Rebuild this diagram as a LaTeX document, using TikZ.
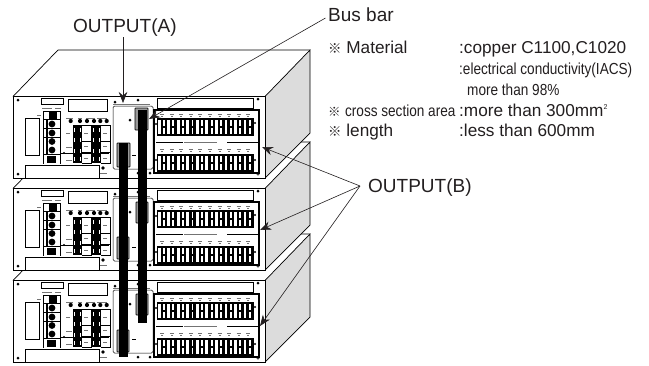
\documentclass[tikz,border=0pt]{standalone}
\usepackage{fontspec}
\usepackage{graphicx}
\setmainfont{Liberation Sans}
\newfontfamily\cjkf{Noto Sans CJK SC}
\usetikzlibrary{arrows.meta}
\definecolor{ink}{HTML}{231F20}
\definecolor{sideg}{HTML}{DCDCDC}
\tikzset{
  x=1pt,y=-1pt,
  lbl/.style={anchor=base west,inner sep=0pt,text=ink},
  big/.style={lbl,font=\fontsize{19}{19}\selectfont},
  mid/.style={lbl,font=\fontsize{17.2}{17}\selectfont},
  sml/.style={lbl,font=\fontsize{16}{16}\selectfont},
  callout/.style={draw=ink,line width=.6pt,-{Stealth[length=11pt,width=8.5pt]}},
  edge/.style={draw=black,line width=.7pt},
  panelbox/.style={draw=black,line width=.5pt,fill=white},
  clamp/.style={draw=black,line width=.7pt,fill=black!40,rounded corners=.6pt},
  tiny/.style={draw=black!55,line width=.5pt},
  screw/.style={fill=black}
}
\newcommand{\rc}{{\cjkf\scalebox{.78}{※}}}
\newcommand{\nar}[1]{\scalebox{.85}[1]{#1}}
\newcommand{\oneterm}[2]{%
  \fill[white] (#1,#2) rectangle ++(2.8,14.6);
  \fill[white] (#1+5.2,#2) rectangle ++(1.9,6.4);
  \fill[white] (#1+5.2,#2+8.2) rectangle ++(1.9,6.4);
}
\newcommand{\unitdraw}{%
  % top and side faces
  \fill[white] (13,96.5) -- (58,50) -- (310,50) -- (265,96.5) -- cycle;
  \draw[edge] (13,96.5) -- (58,50) -- (310,50);
  \fill[sideg] (265,96.5) -- (310,50) -- (310,133) -- (265,178) -- cycle;
  \draw[edge] (265,96.5) -- (310,50) -- (310,133) -- (265,178);
  % front panel
  \draw[line width=.9pt,fill=white] (13,96.5) rectangle (265,178);
  % screws
  \foreach \sx/\sy in {18/100,18/174,138/100,258/99,138/173,150/173,115/102}
    \fill[screw] (\sx,\sy) circle (1.5);
  \draw[line width=.6pt] (258,174) circle (1.3);
  % outlined panels
  \draw[panelbox] (41,98) rectangle (63,104);
  \draw[panelbox] (68,99) rectangle (107,111);
  \draw[panelbox] (25,118) rectangle (39,155);
  \draw[panelbox] (25,165) rectangle (99,178);
  \draw[panelbox] (157,98) rectangle (253,108);
  % left terminal block
  \fill[black] (43,111) rectangle (61,164);
  \foreach \ty in {120,129,137.5,146}{
    \fill[white] (44,\ty) rectangle (60,\ty+8);
    \fill[black] (46,\ty) rectangle (47.5,\ty+8);
    \fill[black] (52,\ty+4) circle (3.4);
  }
  \fill[white] (44,111.5) rectangle (60,119);
  \fill[black] (49,112) rectangle (57,118.5);
  \fill[white] (44,155) rectangle (60,163.5);
  \fill[black] (47,156) rectangle (56,162.5);
  % small marks
  \draw[tiny] (42,108) -- (52,108) (55,108) -- (61,108);
  \draw[tiny] (37,115.5) -- (41,115.5);
  \draw[tiny] (66,118) -- (73,118) (78,118) -- (82,118) (86,118) -- (95,118) (97,118) -- (107,118);
  % switch row
  \foreach \cx in {70.7,80,87,94,100.3,106.7}{
    \fill[black] (\cx,121) circle (2.1);
  }
  % switch strips
  \foreach \bx in {73,92}{
    \fill[black] (\bx,125) rectangle (\bx+9,163);
    \foreach \wy in {128,138,149,157}{
      \fill[white] (\bx+.5,\wy) rectangle (\bx+2,\wy+4);
      \fill[white] (\bx+6.5,\wy) rectangle (\bx+8,\wy+4);
    }
    \draw[line width=.5pt] (\bx+9,125) -- (\bx+18,125) -- (\bx+18,163) -- (\bx+9,163)
      (\bx+9,141) -- (\bx+18,141) (\bx+9,152) -- (\bx+18,152);
    \draw[tiny] (\bx+11,133) -- (\bx+15,133) (\bx+11,146) -- (\bx+15,146) (\bx+11,158) -- (\bx+15,158);
  }
  \draw[tiny] (66,133) -- (70,133) (66,147) -- (72,147) (66,160) -- (72,160);
  \draw[line width=.6pt] (60,153) -- (66,153);
  \fill[black] (64,153) circle (1.2);
  \draw[line width=.6pt] (66,153) -- (109,153);
  \fill[black] (103,168) circle (1.8);
  \draw[tiny] (100,173) -- (107,173);
  % output A panel
  \draw[panelbox,rounded corners=1.5pt] (113,106) rectangle (153,169);
  \draw[tiny] (113,104) -- (150,104);
  \fill[black] (130,120) circle (1.5);
  \fill[black] (132,154.5) rectangle (136,155.8);
  % output B block
  \draw[line width=1.6pt,fill=white] (154,110) rectangle (259,173);
  \fill[black] (157,118) rectangle (254,136);
  \fill[black] (157,153.5) rectangle (254,172);
  \foreach \i in {0,...,9}{
    \pgfmathsetmacro{\tx}{157.7+9.55*\i}
    \oneterm{\tx}{119.8}
    \oneterm{\tx}{155.8}
    \draw[tiny] (\tx+2.5,114) -- (\tx+6.5,114) (\tx+2.5,149.5) -- (\tx+6.5,149.5);
    \draw[tiny] (\tx+3.5,116) -- (\tx+5.5,116) (\tx+3.5,151.5) -- (\tx+5.5,151.5);
  }
  \fill[black] (156,124) circle (1.1) (255,123) circle (1.1) (156,160) circle (1.1) (255,160) circle (1.1);
  \draw[line width=.5pt] (156,142) -- (183,142) (227,142) -- (258,142);
  \draw[tiny] (184,142) -- (217,142);
}
\begin{document}
\begin{tikzpicture}
  \useasboundingbox (0,0) rectangle (649,365);
  \fill[white] (0,0) rectangle (649,365);
  % three stacked units, lowest first
  \foreach \sh in {184,92,0}{
    \begin{scope}[shift={(0,\sh)}]
      \unitdraw
    \end{scope}
  }
  % clamps
  \foreach \cx/\cy/\cw/\ch in {135/108/13/22,117/143/13/24,136/202/12/21,117/237/12/22,136/294/12/21,117/330/12/22}{
    \draw[clamp] (\cx,\cy) rectangle ++(\cw,\ch);
  }
  % bus bars
  \fill[black] (138,110) rectangle (147,323);
  \fill[black] (119,143) rectangle (128,357);

  % labels
  \node[big] (outa) at (73,32) {OUTPUT(A)};
  \node[big] (busbar) at (328,21) {Bus bar};
  \node[big] (outb) at (368,192) {OUTPUT(B)};
  \node[mid] (m1) at (328,53) {\rc{} Material};
  \node[mid] (m2) at (459,53) {:copper C1100,C1020};
  \node[sml] (m3) at (459,74) {\nar{:electrical conductivity(IACS)}};
  \node[sml] (m4) at (467,95) {\nar{more than 98\%}};
  \node[sml] (m5) at (328,116) {\rc{} \nar{cross section area}};
  \node[mid] (m6) at (459,116) {:more than 300mm\raisebox{6.5pt}{\fontsize{7}{7}\selectfont 2}};
  \node[mid] (m7) at (328,136) {\rc{} length};
  \node[mid] (m8) at (459,136) {:less than 600mm};

  % connector ends
  \coordinate (aout) at (123,37);
  \coordinate (aend) at (123,103);
  \coordinate (bstart) at (325.5,18);
  \coordinate (bend) at (149,119);
  \coordinate (apex) at (360,186);
  \coordinate (b1) at (262,147);
  \coordinate (b2) at (260,230);
  \coordinate (b3) at (260,326);
  \draw[callout] (aout) -- (aend);
  \draw[callout] (bstart) -- (bend);
  \draw[callout] (apex) -- (b1);
  \draw[callout] (apex) -- (b2);
  \draw[callout] (apex) -- (b3);
\end{tikzpicture}
\end{document}
